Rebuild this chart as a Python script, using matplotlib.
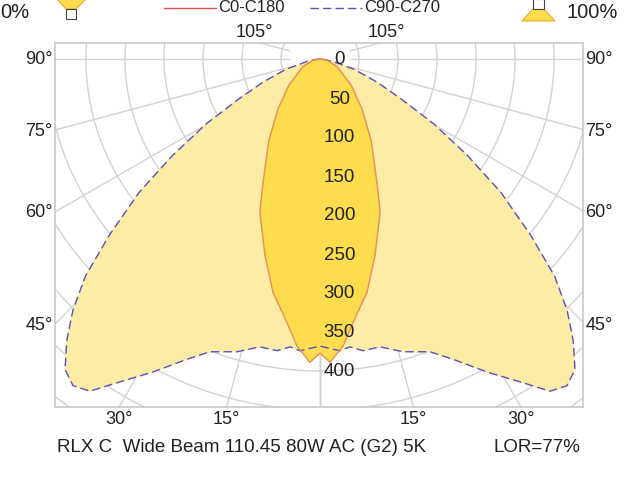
import numpy as np
import matplotlib
matplotlib.use("Agg")
import matplotlib.pyplot as plt
from matplotlib.patches import Polygon, Circle, Rectangle

plt.rcParams['font.family'] = ['Liberation Sans', 'DejaVu Sans']

# C90-C270 (wide) : gamma from nadir (deg), intensity (cd/klm)
g90 = [0, 3.9, 5.9, 8.4, 11.8, 15.8, 20.6, 23.9, 28.1, 31.8, 34.7, 37.1, 39.4,
       42.0, 44.5, 47.2, 50.1, 53.6, 56.8, 60.3, 63.8, 68, 73.1, 78.7, 85, 90]
i90 = [368, 375, 371, 378, 377, 390, 401, 421, 455, 487, 518, 525, 515,
       485, 452, 410, 352, 288, 226, 168, 116, 78, 46, 18, 5, 0]
# C0-C180 (narrow)
g0 = [0, 1.9, 4.6, 7.2, 11.4, 15.6, 21.4, 24, 32, 40, 50, 66, 80, 90]
i0 = [377, 389, 369, 340, 305, 262, 211, 182, 124, 84, 52, 24, 9, 0]

rings = [0, 50, 100, 150, 200, 250, 300, 350, 400]
side_angles = [90, 75, 60, 45]
bottom_angles = [30, 15]

def curve(g, i):
    g = np.radians(np.array(g)); i = np.array(i)
    xr = i * np.sin(g); yr = -i * np.cos(g)
    x = np.concatenate([-xr[::-1], xr[1:]])
    y = np.concatenate([yr[::-1], yr[1:]])
    return x, y

fig = plt.figure(figsize=(6.42, 4.81), dpi=100)
ax = fig.add_axes([55/642, 73/481, 528/642, 364/481])
xmin, xmax = (55-320)/0.78, (583-320)/0.78
ymin, ymax = -(408-60)/0.78, (60-44)/0.78
ax.set_xlim(xmin, xmax); ax.set_ylim(ymin, ymax)
ax.set_xticks([]); ax.set_yticks([])
for s in ax.spines.values():
    s.set_color('#c8c8c8'); s.set_linewidth(1.2)

gc = '#d2d2d2'
for r in range(50, 700, 50):
    ax.add_patch(Circle((0, 0), r, fill=False, ec=gc, lw=1.0, zorder=1))
for a in range(0, 181, 15):
    t = np.radians(a)
    for sgn in (1, -1):
        ax.plot([sgn*40*np.sin(t), sgn*900*np.sin(t)], [-40*np.cos(t), -900*np.cos(t)],
                color=gc, lw=1.0, zorder=1)
ax.plot([0, 0], [0, -900], color=gc, lw=1.0, zorder=1)

xw, yw = curve(g90, i90)
ax.fill(xw, yw, color='#fdeca6', zorder=2)
ax.plot(xw, yw, color='#5a4fc0', lw=1.0, ls=(0, (6, 3)), zorder=4)
xn, yn = curve(g0, i0)
ax.fill(xn, yn, color='#fddc4e', zorder=3)
ax.plot(xn, yn, color='#e8905a', lw=1.0, zorder=4)

for r in rings:
    ax.text(25, -r, str(r), fontsize=13.5, ha='center', va='center', color='#222', zorder=5)

fs = 13
for a in side_angles:
    y = -(265/0.78) / np.tan(np.radians(a)) if a != 90 else 0
    ax.text(xmin - 3, y, f"{a}°", ha='right', va='center', fontsize=fs, color='#222', clip_on=False)
    ax.text(xmax + 3, y, f"{a}°", ha='left', va='center', fontsize=fs, color='#222', clip_on=False)
for a in bottom_angles:
    x = -ymin * np.tan(np.radians(a))
    for sgn in (-1, 1):
        ax.text(sgn*x, ymin - 4, f"{a}°", ha='center', va='top', fontsize=fs, color='#222', clip_on=False)
xt = ymax / np.tan(np.radians(15))
for sgn in (-1, 1):
    ax.text(sgn*(xt+8), ymax + 4, "105°", ha='center', va='bottom', fontsize=fs, color='#222', clip_on=False)

ft = fig.transFigure
def px(x, y):
    return x/642, 1 - y/481
fig.text(*px(57, 448), "RLX C  Wide Beam 110.45 80W AC (G2) 5K", fontsize=13.5, va='center', color='#222')
fig.text(*px(580, 448), "LOR=77%", fontsize=13.5, va='center', ha='right', color='#222')
fig.text(*px(0, 12), "0%", fontsize=14.5, va='center', color='#222')
fig.text(*px(618, 12), "100%", fontsize=14.5, va='center', ha='right', color='#222')
fig.text(*px(218, 8), "C0-C180", fontsize=12, va='center', color='#222')
fig.text(*px(364, 8), "C90-C270", fontsize=12, va='center', color='#222')
fig.lines.append(plt.Line2D([164/642, 216/642], [1-9/481]*2, transform=ft, color='#e05050', lw=1))
fig.lines.append(plt.Line2D([310/642, 362/642], [1-9/481]*2, transform=ft, color='#5a4fc0', lw=1, ls=(0, (6, 3))))
# icons
fig.patches.append(Polygon([px(55, -2), px(88, -2), px(76, 10), px(66, 10)], closed=True,
                           transform=ft, fc='#fddc4e', ec='#e0b030', lw=0.8))
fig.patches.append(Rectangle(px(66, 20), 10/642, 10/481, transform=ft, fc='white', ec='#444', lw=0.8))
fig.patches.append(Polygon([px(522, 22), px(555, 22), px(544, 10), px(533, 10)], closed=True,
                           transform=ft, fc='#fddc4e', ec='#e0b030', lw=0.8))
fig.patches.append(Rectangle(px(533, 10), 11/642, 10/481, transform=ft, fc='white', ec='#444', lw=0.8))

fig.savefig("out.png", dpi=100)
